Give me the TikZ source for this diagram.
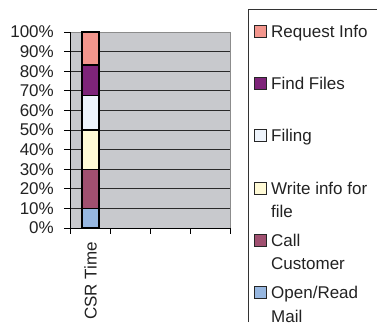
\documentclass[tikz,border=0pt]{standalone}
\usepackage{fontspec}
\setmainfont{Liberation Sans}
\definecolor{plotbg}{HTML}{C8C9CD}
\definecolor{gridc}{HTML}{2A2A2A}
\definecolor{bordc}{HTML}{8C8C8C}
\definecolor{cMail}{HTML}{97B7E0}
\definecolor{cCall}{HTML}{A05070}
\definecolor{cWrite}{HTML}{FFFAD6}
\definecolor{cFiling}{HTML}{EEF4FC}
\definecolor{cFind}{HTML}{7E2479}
\definecolor{cReq}{HTML}{F3968D}
\definecolor{txt}{HTML}{222222}
\newcommand{\twolines}[2]{\vtop{\hbox{#1}\hbox{#2}}}
\begin{document}
\begin{tikzpicture}[x=1pt,y=-1pt,
  lbl/.style={font=\fontsize{17}{23.5}\selectfont, text=txt, inner sep=0pt},
  seg/.style={draw=black, line width=1.4pt},
  key/.style={draw=black!85, line width=1pt, minimum size=12pt, inner sep=0pt},
  ktext/.style={lbl, anchor=base west}]
\useasboundingbox (0,0) rectangle (377,322);
% plot area
\fill[plotbg] (70,32) rectangle (230,228);
\draw[bordc, line width=0.8pt] (70,32) -- (230,32) -- (230,228);
\foreach \p in {1,...,9} {
  \draw[gridc, line width=0.9pt] (70,{228-19.6*\p}) -- (230,{228-19.6*\p});
}
% y axis
\draw[black, line width=1pt] (70,32) -- (70,228) -- (230,228);
\foreach \p in {0,...,10} {
  \draw[black, line width=1pt] (64,{228-19.6*\p}) -- (70,{228-19.6*\p});
  \pgfmathtruncatemacro{\v}{10*\p}
  \node[lbl, anchor=east] (y\p) at (54,{228-19.6*\p}) {\v\%};
}
\foreach \x in {70,110,150,190,230} {
  \draw[black, line width=1pt] (\x,228) -- (\x,234);
}
% bar
\draw[seg, fill=cMail]   (82,228) rectangle (99,208.4);
\draw[seg, fill=cCall]   (82,208.4) rectangle (99,169.2);
\draw[seg, fill=cWrite]  (82,169.2) rectangle (99,130);
\draw[seg, fill=cFiling] (82,130) rectangle (99,95.3);
\draw[seg, fill=cFind]   (82,95.3) rectangle (99,65);
\draw[seg, fill=cReq]    (82,65) rectangle (99,32);
\node[lbl, rotate=90, anchor=east] (cat) at (90.5,242) {CSR Time};
% legend
\draw[black!80, line width=1pt] (248,322) -- (248,9) -- (377,9);
\foreach \n/\c/\t/\b in {req/cReq/{Request Info}/37,
                          find/cFind/{Find Files}/89.5,
                          fil/cFiling/{Filing}/141.5,
                          wri/cWrite/{\twolines{Write info for}{file}}/194,
                          cal/cCall/{\twolines{Call}{Customer}}/246.4,
                          mai/cMail/{\twolines{Open/Read}{Mail}}/298.7} {
  \node[key, fill=\c] (k\n) at (260,\b-6) {};
  \node[ktext] (t\n) at (271,\b) {\t};
}
\end{tikzpicture}
\end{document}
